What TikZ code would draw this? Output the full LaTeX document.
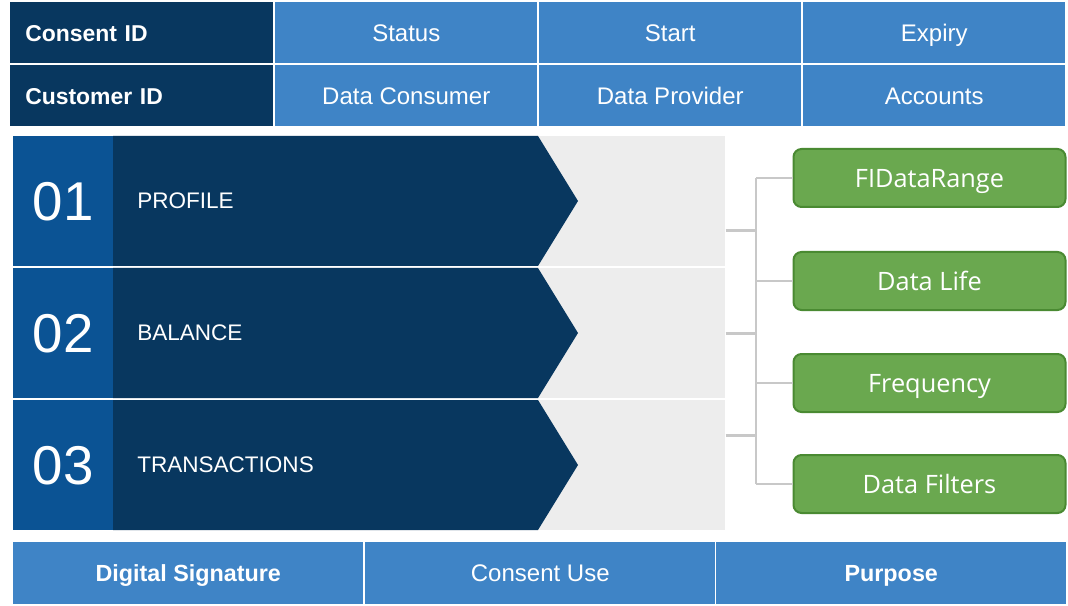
\documentclass[tikz,border=0pt]{standalone}
\usepackage{fontspec}
\setmainfont{Liberation Sans}
\newfontfamily\leaffont{Open Sans}
\usetikzlibrary{calc,positioning}

\definecolor{navy}{HTML}{08375F}
\definecolor{midblue}{HTML}{0B5394}
\definecolor{lightblue}{HTML}{3F84C6}
\definecolor{bandgray}{HTML}{EDEDED}
\definecolor{leafgreen}{HTML}{6AA84F}
\definecolor{leafedge}{HTML}{4A8A32}
\definecolor{linkgray}{HTML}{C8C8C8}

\newcommand{\px}{0.75pt}

\begin{document}
\begin{tikzpicture}[x=0.75pt, y=-0.75pt,
    cell/.style={anchor=north west, inner sep=0pt, text=white,
      text height=13pt, text depth=0pt,
      minimum height=61*\px, font=\fontsize{18}{22}\selectfont},
    headcell/.style={cell, fill=navy, inner xsep=15*\px, text width=233*\px,
      align=left, font=\fontsize{17.2}{20}\selectfont\bfseries},
    infocell/.style={cell, fill=lightblue, minimum width=262*\px},
    footcell/.style={cell, fill=lightblue, minimum width=350*\px, minimum height=62*\px},
    boldcell/.style={font=\fontsize{17.5}{20}\selectfont\bfseries},
    band/.style={anchor=north west, fill=bandgray, inner sep=0pt,
      minimum width=712*\px, minimum height=130*\px},
    numbox/.style={anchor=north west, fill=midblue, inner sep=0pt, text=white,
      minimum width=100*\px, minimum height=130*\px, font=\fontsize{41}{46}\selectfont},
    steplabel/.style={anchor=west, text=white, inner sep=0pt, font=\fontsize{16.9}{20}\selectfont},
    leaf/.style={draw=leafedge, line width=1.5pt, fill=leafgreen, rounded corners=6pt,
      text=white, minimum width=272*\px, minimum height=58*\px, inner sep=0pt,
      text height=13.6pt, text depth=0pt,
      font=\leaffont\fontsize{19}{22}\selectfont},
    link/.style={draw=linkgray, line width=2pt}]

  % page
  \useasboundingbox[fill=white] (0,0) rectangle (1068,606);

  % consent header table
  \node[headcell] (consentid) at (10,2) {Consent ID};
  \node[headcell] (customerid) at (10,65) {Customer ID};
  \foreach \lbl [count=\i from 0] in {Status, Start, Expiry} {
    \node[infocell] (top\i) at ({275+264*\i}, 2) {\lbl};
  }
  \foreach \lbl [count=\i from 0] in {Data Consumer, Data Provider, Accounts} {
    \node[infocell] (mid\i) at ({275+264*\i}, 65) {\lbl};
  }

  % fi types
  \foreach \num/\lbl/\top [count=\i] in {01/PROFILE/136, 02/BALANCE/268, 03/TRANSACTIONS/400} {
    \node[band] (band\i) at (13,\top) {};
    \fill[navy] (113,\top) -- (538,\top) -- (578,\top+65) -- (538,\top+130)
      -- (113,\top+130) -- cycle;
    \node[numbox] (num\i) at (13,\top) {\num};
    \node[steplabel] (type\i) at (137,\top+65) {\lbl};
  }

  % consent types
  \node[leaf] (range) at (929.5,178) {FIDataRange};
  \node[leaf] (life) at (929.5,281) {Data Life};
  \node[leaf] (freq) at (929.5,383) {Frequency};
  \node[leaf] (filters) at (929.5,484) {Data Filters};

  \coordinate (trunk) at (756,178);
  \draw[link] (trunk) -- (trunk |- filters.west);
  \draw[link] ($(band1.east)+(0,29)$) -- (trunk |- {$(band1.east)+(0,29)$});
  \draw[link] (band2.east) -- (trunk |- band2.east);
  \draw[link] ($(band3.east)+(0,-30)$) -- (trunk |- {$(band3.east)+(0,-30)$});
  \foreach \n in {range, life, freq, filters} {
    \draw[link] (trunk |- \n.west) -- (\n.west);
  }

  % footer
  \node[footcell, boldcell] (signature) at (13,542) {Digital Signature};
  \node[footcell] (use) at (365,542) {Consent Use};
  \node[footcell, boldcell] (purpose) at (716,542) {Purpose};
\end{tikzpicture}
\end{document}
